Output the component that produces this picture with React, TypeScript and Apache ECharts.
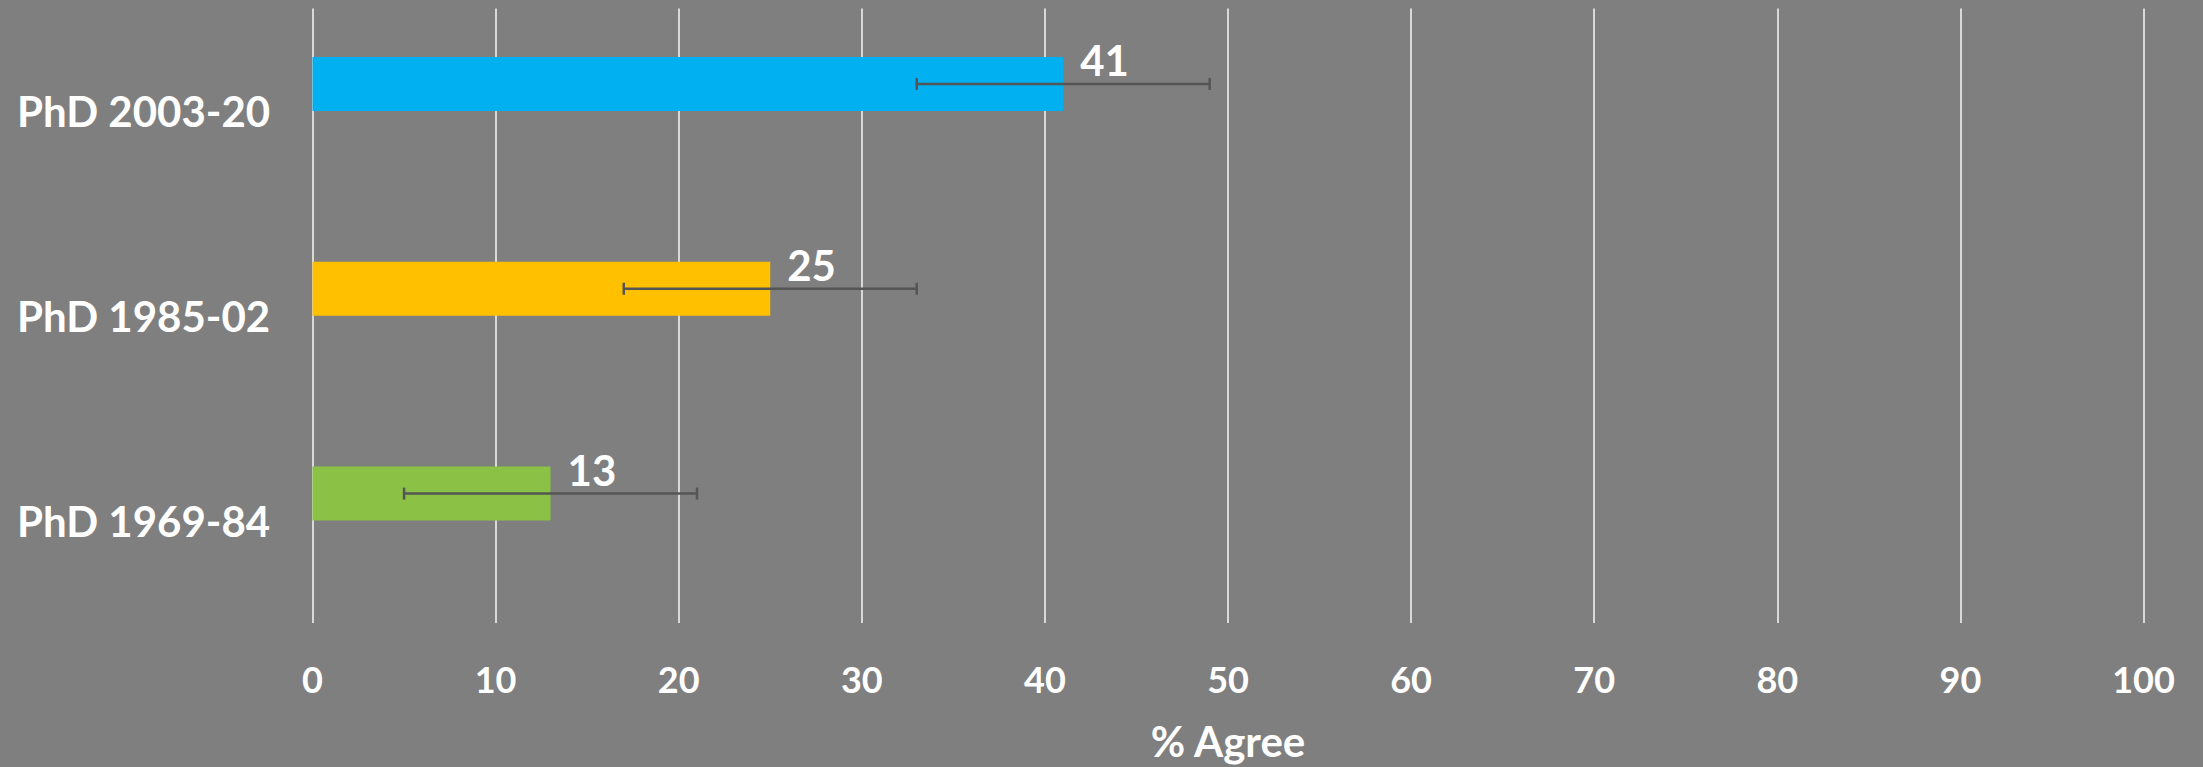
import React, { useEffect, useRef } from "react";
import * as echarts from "echarts";

// Categories listed bottom-to-top (ECharts category y axis starts at the bottom)
const categories = ["PhD 1969-84", "PhD 1985-02", "PhD 2003-20"];
const agreeValues = [13, 25, 41];
const errorMargins = [8, 8, 8];
const barColors = ["#8BC145", "#FFC000", "#00B0F0"];
const xTicks = [0, 10, 20, 30, 40, 50, 60, 70, 80, 90, 100];

const FONT = 'Lato, "Open Sans", "DejaVu Sans", sans-serif';
const BAR_W = 54;

export default function App() {
  const ref = useRef<HTMLDivElement>(null);
  useEffect(() => {
    if (!ref.current) return;
    const chart = echarts.init(ref.current, undefined, { renderer: "svg" });
    const barData = agreeValues.map((v, i) => ({
      value: v,
      itemStyle: { color: barColors[i] },
    }));
    const errData = agreeValues.map((v, i) => [i, v - errorMargins[i], v + errorMargins[i]]);
    chart.setOption({
      animation: false,
      backgroundColor: "#7F7F7F",
      grid: { left: 312.5, right: 59.5, top: 8.5, bottom: 143, containLabel: false },
      xAxis: {
        type: "value",
        min: xTicks[0],
        max: xTicks[xTicks.length - 1],
        interval: 10,
        name: "% Agree",
        nameLocation: "middle",
        nameGap: 97,
        nameTextStyle: { color: "#FFFFFF", fontFamily: FONT, fontWeight: "bold", fontSize: 42 },
        axisLine: { show: false },
        axisTick: { show: false },
        axisLabel: { color: "#FFFFFF", fontFamily: FONT, fontWeight: "bold", fontSize: 36, margin: 38 },
        splitLine: { show: true, lineStyle: { color: "#D9D9D9", width: 2 } },
      },
      yAxis: {
        type: "category",
        data: categories,
        axisLine: { show: false },
        axisTick: { show: false },
        axisLabel: {
          color: "#FFFFFF",
          fontFamily: FONT,
          fontWeight: "bold",
          fontSize: 42,
          align: "left",
          margin: 295.5,
        },
        splitLine: { show: false },
      },
      series: [
        {
          type: "bar",
          data: barData,
          barWidth: BAR_W,
          barGap: "0%",
          label: {
            show: true,
            position: "right",
            distance: 17,
            offset: [0, -24],
            color: "#FFFFFF",
            fontFamily: FONT,
            fontWeight: "bold",
            fontSize: 42,
            formatter: "{c}",
          },
          z: 2,
        },
        {
          type: "bar",
          data: agreeValues.map(() => "-"),
          barWidth: BAR_W,
          barGap: "0%",
          silent: true,
        },
        {
          type: "custom",
          data: errData,
          encode: { x: [1, 2], y: 0 },
          z: 5,
          renderItem: (params: any, api: any) => {
            const idx = api.value(0);
            const p1 = api.coord([api.value(1), idx]);
            const p2 = api.coord([api.value(2), idx]);
            const y = p1[1] - BAR_W / 2;
            const st = { stroke: "#555555", lineWidth: 2.5 };
            return {
              type: "group",
              children: [
                { type: "line", shape: { x1: p1[0], y1: y, x2: p2[0], y2: y }, style: st },
                { type: "line", shape: { x1: p1[0], y1: y - 6, x2: p1[0], y2: y + 6 }, style: st },
                { type: "line", shape: { x1: p2[0], y1: y - 6, x2: p2[0], y2: y + 6 }, style: st },
              ],
            };
          },
        },
      ],
    });
    return () => chart.dispose();
  }, []);
  return (
    <div
      ref={ref}
      style={{ position: "fixed", left: 0, top: 0, width: 2203, height: 767 }}
    />
  );
}
